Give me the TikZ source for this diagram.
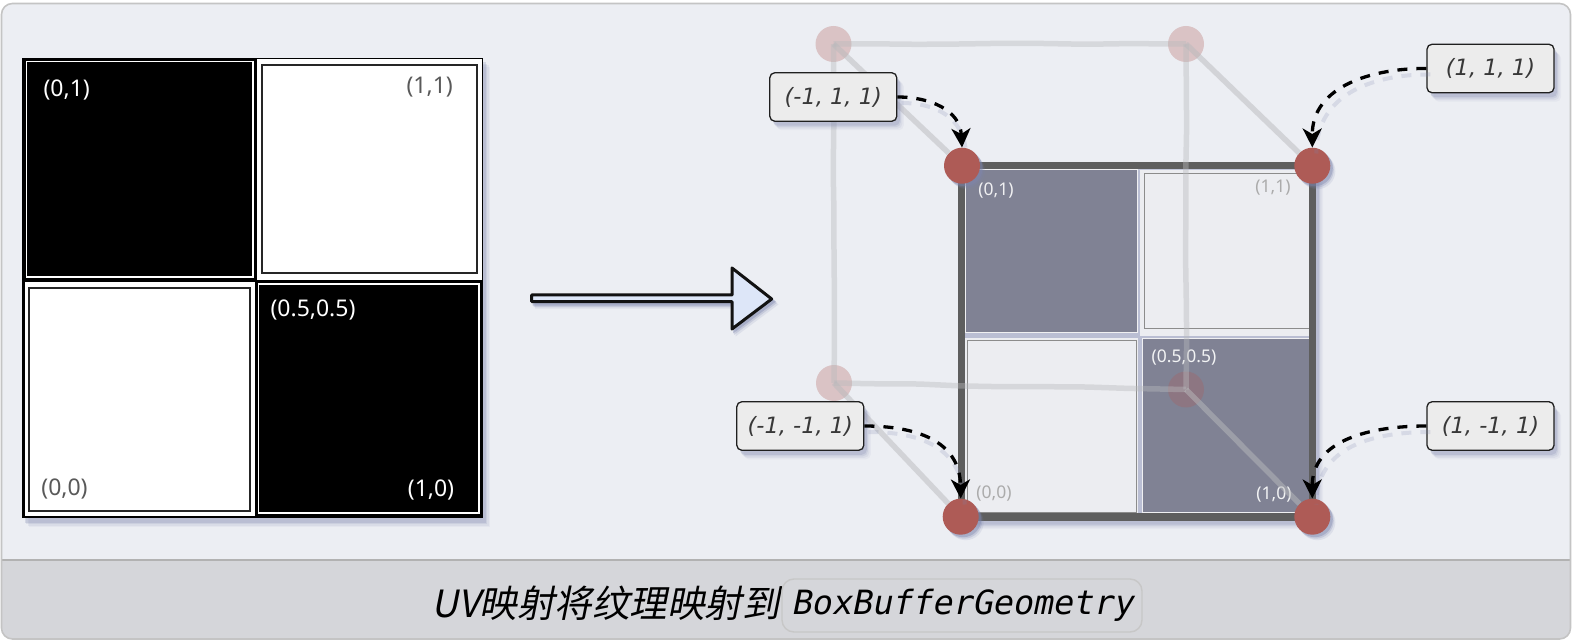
\documentclass[tikz,border=0pt]{standalone}
\usepackage{fontspec}
\setmainfont{Noto Sans}
\newfontfamily\lblit{DejaVu Sans}[ItalicFont={DejaVu Sans Oblique}]
\newfontfamily\capfont[FakeSlant=0.2]{Noto Sans CJK SC}
\newfontfamily\codefont[FakeSlant=0.2]{DejaVu Sans Mono}
\usetikzlibrary{arrows.meta,decorations.pathmorphing,calc}
\definecolor{panel}{HTML}{ECEEF3}
\definecolor{foot}{HTML}{D5D6DA}
\definecolor{frameg}{HTML}{C4C4C4}
\definecolor{shadowc}{HTML}{7E86AE}
\definecolor{rose}{HTML}{AE5B56}
\definecolor{backc}{HTML}{B9BABD}
\definecolor{qdark}{HTML}{808294}
\definecolor{qlight}{HTML}{ECEDF1}
\definecolor{arrowfill}{HTML}{DDE6F8}
\tikzset{
  softshadow/.style={
    preaction={draw=none,fill=shadowc,fill opacity=.07,transform canvas={shift={(7pt,-9pt)}}},
    preaction={draw=none,fill=shadowc,fill opacity=.10,transform canvas={shift={(5.5pt,-7.5pt)}}},
    preaction={draw=none,fill=shadowc,fill opacity=.15,transform canvas={shift={(4pt,-6pt)}}},
    preaction={draw=none,fill=shadowc,fill opacity=.22,transform canvas={shift={(3pt,-4.5pt)}}}},
  tightshadow/.style={
    preaction={draw=none,fill=shadowc,fill opacity=.14,transform canvas={shift={(5pt,-5.5pt)}}},
    preaction={draw=none,fill=shadowc,fill opacity=.24,transform canvas={shift={(3.5pt,-4pt)}}},
    preaction={draw=none,fill=shadowc,fill opacity=.40,transform canvas={shift={(2.5pt,-2.5pt)}}}},
  callout/.style={draw=black!88,line width=1.3pt,fill=black!7.5,rounded corners=5pt,
    minimum width=127pt,minimum height=48.5pt,inner sep=0pt,
    text=black!78,font=\lblit\itshape\fontsize{22.5}{26}\selectfont,softshadow},
  vertexdot/.style={circle,fill=rose,minimum size=36pt,inner sep=0pt,tightshadow},
  backdot/.style={circle,fill=rose,fill opacity=.29,minimum size=36pt,inner sep=0pt},
  backedge/.style={draw=backc,line width=5.5pt,opacity=.42,decorate,
    decoration={random steps,segment length=42pt,amplitude=.7pt},rounded corners=6pt},
  backdiag/.style={draw=backc,line width=5.5pt,opacity=.5},
  pointer/.style={draw=black,line width=3.3pt,dash pattern=on 10pt off 9pt,
    -{Stealth[length=19pt,width=19pt,inset=5.5pt]}},
  pointerghost/.style={draw=shadowc,line width=4pt,dash pattern=on 10pt off 9pt,opacity=.2,
    transform canvas={shift={(4pt,-6pt)}}},
  biglabel/.style={font=\fontsize{23}{26}\selectfont,inner sep=0pt},
  smalllabel/.style={font=\fontsize{17.5}{20}\selectfont,inner sep=0pt},
}
\pgfmathsetseed{7}
\begin{document}
\begin{tikzpicture}[x=1pt,y=-1pt,line join=miter]
\useasboundingbox (0,0) rectangle (1572,644);
\fill[white] (0,0) rectangle (1572,644);
% panel
\begin{scope}
\clip[rounded corners=11pt] (2,4) rectangle (1570,639);
\fill[panel] (2,4) rectangle (1570,560);
\fill[foot] (2,560) rectangle (1570,639);
\draw[black!30,line width=1.4pt] (2,560) -- (1570,560);
\end{scope}
\draw[frameg,line width=1.6pt,rounded corners=11pt] (1.5,3.5) rectangle (1570.5,639);

% left texture
\path[softshadow] (22,58) rectangle (483,518);
\fill[black] (22,58) rectangle (483,518);
\draw[white,line width=1.3pt] (26.7,61.7) rectangle (253,277);
\fill[white] (257,59) rectangle (482,280);
\draw[black!85,line width=1.4pt] (262,65) rectangle (477,273);
\fill[white] (24.5,282.5) rectangle (255,516);
\draw[black!85,line width=1.4pt] (29,288) rectangle (250,511);
\draw[white,line width=1.3pt] (258.3,284) rectangle (479,513);
\node[biglabel,text=white] (t01) at (66.7,90) {(0,1)};
\node[biglabel,text=black!65] (t11) at (429.7,87) {(1,1)};
\node[biglabel,text=black!65] (t00) at (64.5,488.5) {(0,0)};
\node[biglabel,text=white] (t10) at (431,489.5) {(1,0)};
\node[biglabel,text=white] (t55) at (313,309.5) {(0.5,0.5)};

% big arrow
\path[tightshadow] (530,293.5) -- (730.5,293.5) -- (730.5,265) -- (773.5,299) -- (730.5,331) -- (730.5,303.2) -- (530,303.2) -- cycle;
\draw[draw=black!93,fill=arrowfill,line width=3pt,line join=round] (531.7,295) -- (732,295) -- (732,268) -- (771.7,299) -- (732,329) -- (732,301.7) -- (531.7,301.7) -- cycle;

% mapped texture
\path[softshadow,even odd rule] (958,162) rectangle (1316,520) (966,170) rectangle (1308,512);
\fill[qdark] (965,169) rectangle (1138,333);
\fill[qdark] (1142.5,339) rectangle (1309,512);
\fill[qlight] (1140,170) rectangle (1309,336);
\fill[qlight] (965,338) rectangle (1138,513);
\draw[black!45,line width=1pt] (1144,173.5) rectangle (1309,329);
\draw[black!45,line width=1pt] (967.5,340.7) rectangle (1136,512);
\draw[white!88!qdark,line width=1pt] (965.5,170) rectangle (1137.5,333);
\draw[white!88!qdark,line width=1pt] (1142.7,339) rectangle (1309,512);
\draw[black!63,line width=7.6pt] (961.6,165.7) rectangle (1312.3,516.7);
\node[smalllabel,text=white!88!qdark] (p01) at (996,190.5) {(0,1)};
\node[smalllabel,text=black!33] (p11) at (1273,187.5) {(1,1)};
\node[smalllabel,text=black!33] (p00) at (994,494) {(0,0)};
\node[smalllabel,text=white!90!qdark] (p10) at (1274,494.8) {(1,0)};
\node[smalllabel,text=white!90!qdark] (p55) at (1184,357.5) {(0.5,0.5)};

% back cube
\node[backdot] (b1) at (833.5,44) {};
\node[backdot] (b2) at (1186,44) {};
\node[backdot] (b3) at (834,383) {};
\node[backdot] (b4) at (1186,389.5) {};
\node[vertexdot] (f1) at (962,165.7) {};
\node[vertexdot] (f2) at (1312.3,165.7) {};
\node[vertexdot] (f3) at (960.7,516.7) {};
\node[vertexdot] (f4) at (1312.3,516.7) {};
\draw[backedge] (b1.center) -- (b2.center);
\draw[backedge] (b1.center) -- (b3.center);
\draw[backedge] (b2.center) -- (b4.center);
\draw[backedge] (b3.center) -- (b4.center);
\draw[backdiag] (b1.center) -- (f1);
\draw[backdiag] (b2.center) -- (f2);
\draw[backdiag] (b3.center) -- (f3);
\draw[backdiag] (b4.center) -- (f4);

% callouts
\node[callout] (c1) at (833.3,97) {(-1, 1, 1)};
\node[callout] (c2) at (1490.5,68.5) {(1, 1, 1)};
\node[callout] (c3) at (800.3,426) {(-1, -1, 1)};
\node[callout] (c4) at (1490.5,426) {(1, -1, 1)};
\draw[pointerghost] (c1.east) .. controls (930,97) and (960,110) .. (f1.north);
\draw[pointerghost] (c2.west) .. controls (1375,68) and (1312,85) .. (f2.north);
\draw[pointerghost] (c3.east) .. controls (915,426) and (960,440) .. (f3.north);
\draw[pointerghost] (c4.west) .. controls (1370,426) and (1312,440) .. (f4.north);
\draw[pointer] (c1.east) .. controls (930,97) and (960,110) .. (f1.north);
\draw[pointer] (c2.west) .. controls (1375,68) and (1312,85) .. (f2.north);
\draw[pointer] (c3.east) .. controls (915,426) and (960,440) .. (f3.north);
\draw[pointer] (c4.west) .. controls (1370,426) and (1312,440) .. (f4.north);

% caption
\node[anchor=west,inner sep=0pt,font=\capfont\fontsize{37.5}{42}\selectfont,text=black] (cap) at (431,603) {UV映射将纹理映射到};
\node[draw=black!22,line width=1.4pt,rounded corners=12pt,minimum width=360pt,minimum height=53pt,inner sep=0pt,font=\codefont\fontsize{33.4}{38}\selectfont,text=black] (code) at (962,605.5) {BoxBufferGeometry};
\end{tikzpicture}
\end{document}
